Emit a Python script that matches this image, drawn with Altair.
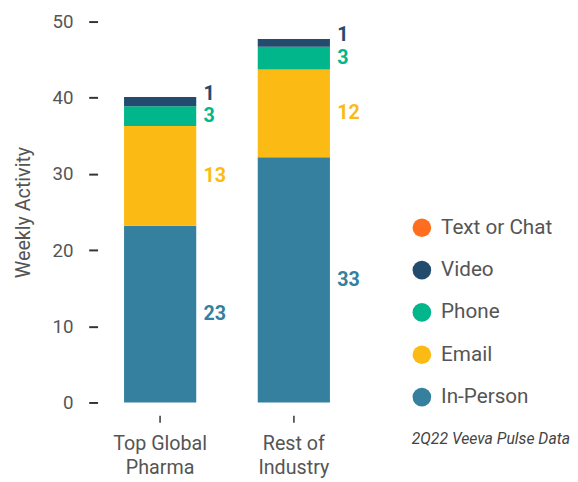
import altair as alt
import pandas as pd

groups = ["Top Global\nPharma", "Rest of\nIndustry"]
series = ["In-Person", "Email", "Phone", "Video", "Text or Chat"]
colors = ["#357F9F", "#FCBB14", "#00B68A", "#234B6E", "#FF6E1F"]
pharma_values = [23.2, 13.1, 2.6, 1.2, 0.0]
rest_values = [32.2, 11.5, 3.0, 1.0, 0.0]
pharma_labels = ["23", "13", "3", "1", ""]
rest_labels = ["33", "12", "3", "1", ""]
footer = "2Q22 Veeva Pulse Data"

rows = []
for g, vals, labs in [(groups[0], pharma_values, pharma_labels), (groups[1], rest_values, rest_labels)]:
    for i, (s, v, l) in enumerate(zip(series, vals, labs)):
        rows.append({"group": g, "series": s, "value": v, "label": l, "order": i})
df = pd.DataFrame(rows)

FONT = "Roboto"
legend_order = list(reversed(series))
color_scale = alt.Scale(domain=legend_order, range=list(reversed(colors)))

base = alt.Chart(df).transform_stack(
    stack="value", groupby=["group"], as_=["y0", "y1"], sort=[alt.SortField("order")]
).transform_calculate(mid="(datum.y0 + datum.y1) / 2")

x_enc = alt.X(
    "group:N", sort=groups, title=None,
    scale=alt.Scale(paddingInner=0.46, paddingOuter=0.176),
    axis=alt.Axis(labelExpr="split(datum.label, '\\n')", labelAngle=0, domain=False,
                  tickSize=7, tickWidth=1.5, tickColor="#333", offset=13, labelPadding=12,
                  labelFontSize=20, labelColor="#555", labelFont=FONT, labelLineHeight=24),
)

bars = base.mark_bar().encode(
    x=x_enc,
    y=alt.Y("y0:Q", title="Weekly Activity",
            scale=alt.Scale(domain=[0, 50]),
            axis=alt.Axis(values=[0, 10, 20, 30, 40, 50], domain=False, grid=False,
                          tickSize=9, tickWidth=2, tickColor="#333", offset=3,
                          labelPadding=16, labelFontSize=19, labelColor="#555", labelFont=FONT,
                          titleFontSize=20, titleColor="#555", titleFont=FONT,
                          titleFontWeight="normal", titlePadding=19)),
    y2="y1:Q",
    color=alt.Color("series:N", scale=color_scale, sort=legend_order,
                    legend=alt.Legend(title=None, orient="none", legendX=316, legendY=199,
                                      symbolType="circle", symbolSize=360, symbolStrokeWidth=0,
                                      labelFontSize=21, labelColor="#555", labelFont=FONT,
                                      rowPadding=21, labelOffset=9, padding=0)),
)

text_main = base.transform_filter(
    "datum.series != 'Video'"
).mark_text(align="left", baseline="middle", dx=44, fontSize=20, fontWeight="bold", font=FONT).encode(
    x=alt.X("group:N", sort=groups),
    y=alt.Y("mid:Q"),
    text="label:N",
    color=alt.Color("series:N", scale=color_scale, legend=None),
)

text_video = base.transform_filter(
    "datum.series == 'Video'"
).mark_text(align="left", baseline="middle", dx=44, dy=-8, fontSize=20, fontWeight="bold", font=FONT).encode(
    x=alt.X("group:N", sort=groups),
    y=alt.Y("mid:Q"),
    text="label:N",
    color=alt.Color("series:N", scale=color_scale, legend=None),
)

foot = alt.Chart(pd.DataFrame({"t": [footer]})).mark_text(
    align="right", baseline="middle", fontSize=16, fontStyle="italic", font=FONT, color="#444"
).encode(x=alt.value(477), y=alt.value(424), text="t:N")

chart = alt.layer(bars, text_main, text_video, foot).properties(
    width=257, height=387, padding={"left": 5, "top": 1, "right": 0, "bottom": 0}
).configure_view(stroke=None)

chart.save("out.html", embed_options={"renderer": "svg", "actions": False})
